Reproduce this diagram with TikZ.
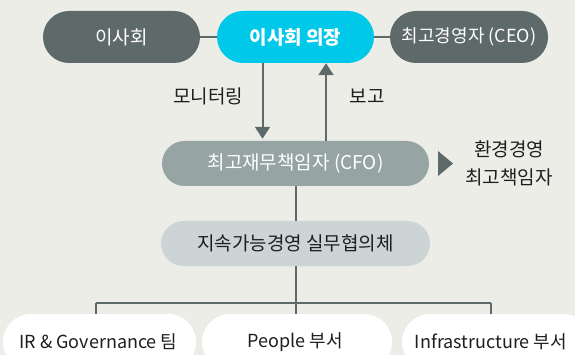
\documentclass[tikz,border=0pt]{standalone}
\usepackage{fontspec}
\setmainfont{Noto Sans CJK KR}
\usetikzlibrary{arrows.meta}
\definecolor{bg}{HTML}{EDEDE8}
\definecolor{darkbox}{HTML}{5E6A6A}
\definecolor{cyanbox}{HTML}{00C8E8}
\definecolor{cfobox}{HTML}{96A4A4}
\definecolor{councilbox}{HTML}{CCD4D6}
\definecolor{linecol}{HTML}{5E6A6A}
\definecolor{txt}{HTML}{1E1E1E}
\begin{document}
\begin{tikzpicture}[x=1pt,y=-1pt,
  basefont/.style={font=\fontsize{19}{23}\selectfont},
  smallfont/.style={font=\fontsize{18}{22}\selectfont},
  pillbox/.style={rectangle, inner sep=0pt, basefont},
  topbox/.style={pillbox, minimum width=157pt, minimum height=52pt, rounded corners=26pt, text=white},
  midbox/.style={pillbox, minimum height=45pt, rounded corners=22.5pt},
  botbox/.style={pillbox, minimum height=56pt, rounded corners=28pt, fill=white, text=txt},
  lbl/.style={inner sep=0pt, basefont, text=txt},
  conn/.style={draw=linecol, line width=2pt},
  arrowline/.style={conn, -{Triangle[width=15pt,length=12pt]}}
]
\useasboundingbox (0,0) rectangle (575,355);
\fill[bg] (0,0) rectangle (575,355);
\clip (0,0) rectangle (575,355);

% top row
\node[topbox, fill=darkbox] (board) at (121.5,37) {이사회};
\node[topbox, fill=cyanbox, font=\fontsize{19}{23}\selectfont\bfseries] (chair) at (295.5,37) {이사회 의장};
\node[topbox, fill=darkbox, minimum width=158pt, smallfont] (ceo) at (469,37) {최고경영자 (CEO)};
\draw[conn] (board.east) -- (chair.west);
\draw[conn] (chair.east) -- (ceo.west);

% CFO
\node[midbox, fill=cfobox, minimum width=267pt, text=white] (cfo) at (295.5,163.5) {최고재무책임자 (CFO)};

% arrows
\draw[arrowline, shorten >=2pt] ([xshift=-33pt]chair.south) -- ([xshift=-33pt]cfo.north);
\draw[arrowline] ([xshift=30.5pt]cfo.north) -- ([xshift=30.5pt]chair.south);
\node[lbl] (mon) at (208,96) {모니터링};
\node[lbl] (rep) at (367,96) {보고};

% marker and ESG officer
\fill[darkbox] (438,151) -- (453,163.5) -- (438,176) -- cycle;
\node[lbl, align=center, font=\fontsize{19}{28}\selectfont] (esg) at (509,163) {환경경영\\최고책임자};

% council
\node[midbox, fill=councilbox, minimum width=269pt, text=txt] (council) at (295.5,243.5) {지속가능경영 실무협의체};
\draw[conn] (cfo.south) -- (council.north);

% bottom boxes
\coordinate (jl) at (96,303);
\coordinate (jr) at (491,303);
\node[botbox, minimum width=193pt] (ir) at (99.5,342) {};
\node[botbox, minimum width=190pt] (people) at (297,342) {};
\node[botbox, minimum width=190pt] (infra) at (497,342) {};
\draw[conn] (council.south) -- (council.south |- people.north);
\draw[conn] (jl) -- (jr);
\draw[conn] (jl) -- (jl |- ir.north);
\draw[conn] (jr) -- (jr |- infra.north);
\node[lbl, smallfont] (irt) at (98.5,342) {IR \& Governance 팀};
\node[lbl, smallfont] (peoplet) at (295,342) {People 부서};
\node[lbl, smallfont] (infrat) at (491,342) {Infrastructure 부서};
\end{tikzpicture}
\end{document}
